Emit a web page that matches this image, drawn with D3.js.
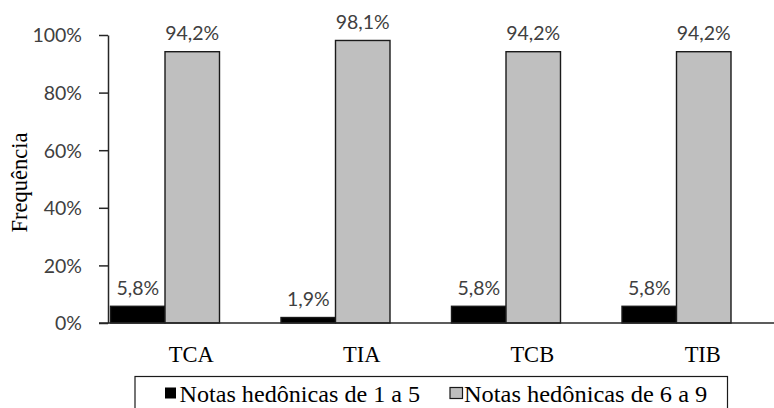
<!DOCTYPE html>
<html>
<head>
<meta charset="utf-8">
<script src="https://cdn.jsdelivr.net/npm/d3@7"></script>
<style>
  html, body { margin: 0; padding: 0; background: #fff; }
  svg { display: block; }
  .serif { font-family: "Liberation Serif", "Times New Roman", Tinos, "DejaVu Serif", serif; }
  .sans { font-family: Lato, "Open Sans", sans-serif; }
</style>
</head>
<body>
<svg id="chart" width="774" height="408"></svg>
<script>
const categories = ["TCA", "TIA", "TCB", "TIB"];
const seriesNames = ["Notas hedônicas de 1 a 5", "Notas hedônicas de 6 a 9"];
const low = [5.8, 1.9, 5.8, 5.8];
const high = [94.2, 98.1, 94.2, 94.2];
const yTicks = [0, 20, 40, 60, 80, 100];
const yTitle = "Frequência";

const svg = d3.select("#chart");
const axisX = 108, y0 = 323, y1 = 35;

const y = d3.scaleLinear().domain([0, 100]).range([y0, y1]);
const x = d3.scaleBand().domain(categories).range([106, 106 + 4 * 170.5]).padding(0);
const sub = d3.scaleBand().domain([0, 1]).range([4.5, 113.5]).padding(0);
const fills = ["#000000", "#bfbfbf"];

const data = categories.map((c, i) => ({ cat: c, vals: [low[i], high[i]] }));

// Y axis
const yAxis = d3.axisLeft(y).tickValues(yTicks).tickSize(9).tickSizeOuter(0).tickPadding(17)
  .tickFormat(d => d + "%");
const gy = svg.append("g").attr("transform", `translate(${axisX},0)`).call(yAxis);
gy.attr("font-family", null).attr("font-size", null);
gy.select(".domain").attr("stroke", "#262626").attr("stroke-width", 1.5);
gy.selectAll(".tick line").attr("stroke", "#262626").attr("stroke-width", 1.5);
gy.selectAll(".tick text").attr("class", "sans").attr("font-size", 19.5)
  .attr("fill", "#404040").attr("dy", null).attr("y", 6.8);

// Y title
svg.append("text").attr("class", "serif").attr("transform", `translate(26.5,182.5) rotate(-90)`)
  .attr("text-anchor", "middle").attr("font-size", 22.5)
  .attr("fill", "#000").text(yTitle);

// Bars
const groups = svg.append("g").selectAll("g").data(data).join("g")
  .attr("transform", d => `translate(${x(d.cat)},0)`);
groups.selectAll("rect").data(d => d.vals.map((v, k) => ({ v, k }))).join("rect")
  .attr("x", d => sub(d.k)).attr("width", sub.bandwidth())
  .attr("y", d => y(d.v)).attr("height", d => y(0) - y(d.v))
  .attr("fill", d => fills[d.k]).attr("stroke", "#1a1a1a").attr("stroke-width", 1.4);

// Data labels
groups.selectAll("text.lbl").data(d => d.vals.map((v, k) => ({ v, k }))).join("text")
  .attr("class", "lbl sans")
  .attr("x", d => sub(d.k) + sub.bandwidth() / 2)
  .attr("y", d => y(d.v) - 11.5)
  .attr("text-anchor", "middle").attr("font-size", 19.5)
  .attr("fill", "#404040")
  .text(d => d.v.toFixed(1).replace(".", ",") + "%");

// X axis line
svg.append("line").attr("x1", axisX - 9).attr("x2", 774).attr("y1", y(0)).attr("y2", y(0))
  .attr("stroke", "#262626").attr("stroke-width", 1.5);

// X labels
const xAxis = d3.axisBottom(x).tickSize(0).tickPadding(0);
const gx = svg.append("g").attr("transform", `translate(0,${y0})`).call(xAxis);
gx.attr("font-family", null).attr("font-size", null);
gx.select(".domain").remove();
gx.selectAll(".tick text").attr("class", "serif").attr("font-size", 22.5)
  .attr("fill", "#000").attr("dy", null).attr("y", 39);

// Legend
const leg = svg.append("g");
leg.append("rect").attr("x", 135).attr("y", 376.5).attr("width", 592.5).attr("height", 40)
  .attr("fill", "#fff").attr("stroke", "#1a1a1a").attr("stroke-width", 1.2);
const legX = [165, 449.5];
const legW = [240.7, 243.3];
seriesNames.forEach((name, k) => {
  leg.append("rect").attr("x", legX[k] + (k ? 0.5 : 0)).attr("y", 387.5)
    .attr("width", k ? 12.5 : 11).attr("height", 11)
    .attr("fill", fills[k]).attr("stroke", k ? "#1a1a1a" : "none").attr("stroke-width", 1.2);
  leg.append("text").attr("class", "serif").attr("x", legX[k] + 14.5).attr("y", 401.5)
    .attr("font-size", 22.5).attr("fill", "#000")
    .attr("textLength", legW[k]).attr("lengthAdjust", "spacingAndGlyphs")
    .text(name);
});
</script>
</body>
</html>
